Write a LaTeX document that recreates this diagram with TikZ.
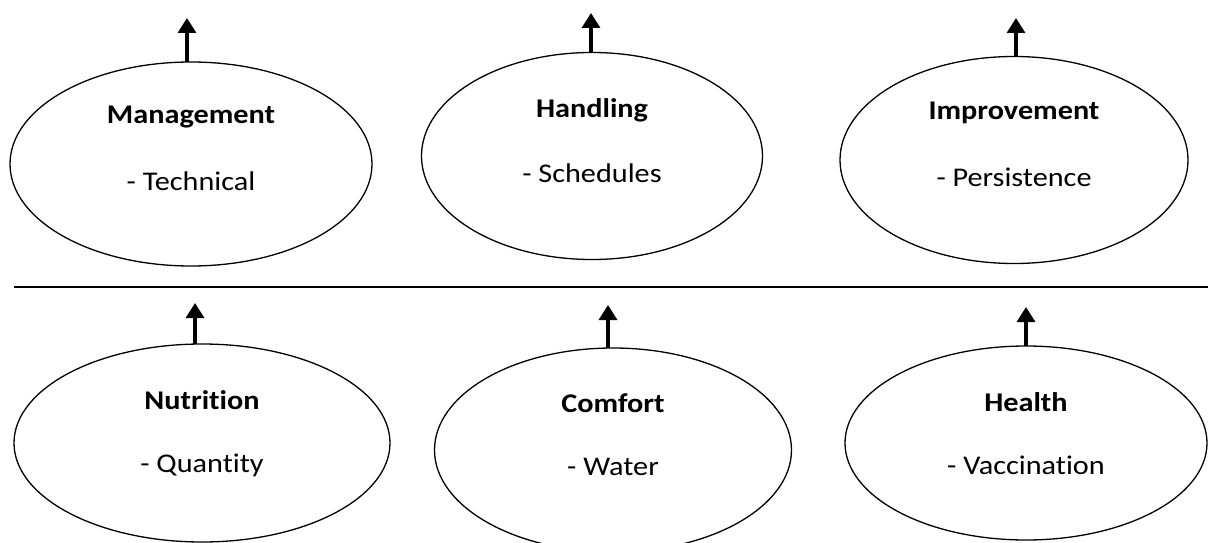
\documentclass[tikz,border=0pt]{standalone}
\usepackage{fontspec}
\setmainfont{Carlito}[FakeStretch=1.12, Ligatures={NoCommon}]
\usetikzlibrary{shapes.geometric,arrows.meta}
\tikzset{
  oval/.style={draw=black, line width=1.3pt, ellipse, inner sep=0pt, outer sep=0pt},
  ttl/.style={font=\fontsize{27}{31}\selectfont\bfseries, inner sep=0pt, anchor=center},
  sub/.style={font=\fontsize{27}{31}\selectfont, inner sep=0pt, anchor=center},
  uparrow/.style={line width=3.2pt, -{Triangle[width=18pt,length=15pt]}},
  divider/.style={line width=1.3pt}
}
\begin{document}
\begin{tikzpicture}[x=1pt,y=1pt]
\useasboundingbox (0,0) rectangle (1208,542);
% top row
\node[oval, minimum width=362pt, minimum height=204pt] (e1) at (191,378) {};
\node[oval, minimum width=341pt, minimum height=207pt] (e2) at (592,386) {};
\node[oval, minimum width=348pt, minimum height=207pt] (e3) at (1014,382) {};
\node[ttl] (t1) at (191,425) {Management};
\node[sub] (s1) at (191,361) {- Technical};
\node[ttl] (t2) at (592,432) {Handling};
\node[sub] (s2) at (592,369) {- Schedules};
\node[ttl] (t3) at (1014,429) {Improvement};
\node[sub] (s3) at (1014,365) {- Persistence};
% divider
\coordinate (dl) at (14,255);
\coordinate (dr) at (1208,255);
\draw[divider] (dl) -- (dr);
% bottom row
\node[oval, minimum width=376pt, minimum height=198pt] (e4) at (202,99) {};
\node[oval, minimum width=357pt, minimum height=204pt] (e5) at (613,92) {};
\node[oval, minimum width=362pt, minimum height=194pt] (e6) at (1026,99) {};
\node[ttl] (t4) at (202,142) {Nutrition};
\node[sub] (s4) at (202,77) {- Quantity};
\node[ttl] (t5) at (613,139) {Comfort};
\node[sub] (s5) at (613,75) {- Water};
\node[ttl] (t6) at (1026,140) {Health};
\node[sub] (s6) at (1026,77) {- Vaccination};
% arrow tips
\coordinate (a1) at (187,524);
\coordinate (a2) at (591,529);
\coordinate (a3) at (1016,524);
\coordinate (a4) at (195,239);
\coordinate (a5) at (608,237);
\coordinate (a6) at (1026,235);
\draw[uparrow] (a1 |- e1.north) -- (a1);
\draw[uparrow] (a2 |- e2.north) -- (a2);
\draw[uparrow] (a3 |- e3.north) -- (a3);
\draw[uparrow] (a4 |- e4.north) -- (a4);
\draw[uparrow] (a5 |- e5.north) -- (a5);
\draw[uparrow] (a6 |- e6.north) -- (a6);
\end{tikzpicture}
\end{document}
